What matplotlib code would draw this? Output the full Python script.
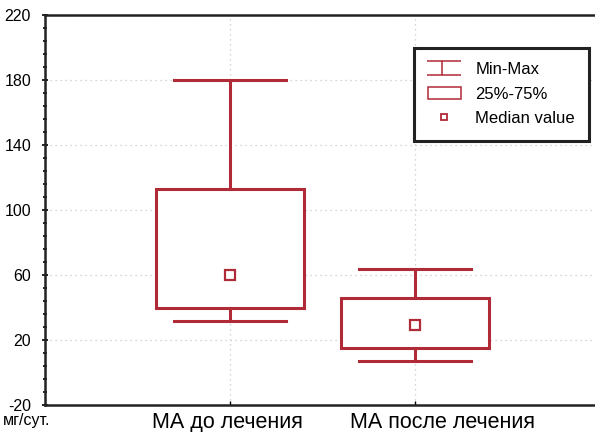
import matplotlib
matplotlib.use('Agg')
import matplotlib.pyplot as plt
import numpy as np
from matplotlib.lines import Line2D
from matplotlib.patches import Patch
from matplotlib.path import Path
from matplotlib.ticker import FixedLocator

plt.rcParams['font.family'] = ['Liberation Sans', 'DejaVu Sans']
plt.rcParams['axes.unicode_minus'] = False

# data (мг/сут.)
groups = ['МА до лечения', 'МА после лечения']
mins = [32, 7]
q1 = [40, 15]
medians = [60, 29]
q3 = [113, 46]
maxs = [180, 64]

y_ticks = [-20, 20, 60, 100, 140, 180, 220]
label_shift = [-2, 20]  # points, the labels are not quite centred on the ticks

red = '#b02a38'

fig = plt.figure(figsize=(5.95, 4.32), dpi=100)
# right spine lies just past the picture edge, as in the original
ax = fig.add_axes([45 / 595, 27 / 432, 555 / 595, 390 / 432])

positions = [1, 2]
stats = []
for i in range(len(groups)):
    stats.append({'whislo': mins[i], 'q1': q1[i], 'med': medians[i],
                  'q3': q3[i], 'whishi': maxs[i]})

ax.bxp(stats, positions=positions, widths=0.8, capwidths=0.61,
       showfliers=False, patch_artist=True,
       boxprops=dict(facecolor='white', edgecolor=red, linewidth=2.2),
       whiskerprops=dict(color=red, linewidth=2.2),
       capprops=dict(color=red, linewidth=2.2),
       medianprops=dict(visible=False),
       zorder=3)
ax.plot(positions, medians, 's', ms=6.5, mfc='white', mec=red, mew=1.6, zorder=4)

ax.set_xlim(0, 3)
ax.set_ylim(-20, 220)
ax.set_yticks(y_ticks)
ax.yaxis.set_minor_locator(FixedLocator(np.arange(-20, 221, 8)))
ax.set_xticks(positions)
ax.set_xticklabels([])
for p, g, dx in zip(positions, groups, label_shift):
    ax.annotate(g, xy=(p, 0), xycoords=('data', 'axes fraction'),
                xytext=(dx, -5), textcoords='offset points',
                ha='center', va='top', fontsize=15.5)

ax.tick_params(axis='y', which='major', labelsize=11.5, direction='inout', length=4, width=1.2, pad=8)
ax.tick_params(axis='y', which='minor', direction='inout', length=3, width=1.2)
ax.tick_params(axis='x', direction='in', length=3, width=1)

for s in ax.spines.values():
    s.set_linewidth(1.8)
    s.set_color('#222222')

ax.grid(True, linestyle=(0, (1, 3)), color='#c8c8c8', linewidth=0.9, zorder=0)
ax.set_axisbelow(True)

fig.text(3 / 595, 1 - 421 / 432, 'мг/сут.', fontsize=11.5, va='center', ha='left')

# legend
bar_marker = Path([(-1, 0.4), (1, 0.4), (-0.15, 0.4), (-0.15, -0.4), (-1, -0.4), (1, -0.4)],
                  [Path.MOVETO, Path.LINETO, Path.MOVETO, Path.LINETO, Path.MOVETO, Path.LINETO])
handles = [
    Line2D([], [], marker=bar_marker, ms=24, color=red, mew=1.1, linestyle='none'),
    Patch(facecolor='white', edgecolor=red, linewidth=1.1),
    Line2D([], [], marker='s', ms=5, mfc='white', mec=red, mew=1.3, linestyle='none'),
]
leg = ax.legend(handles, ['Min-Max', '25%-75%', 'Median value'],
                loc='upper right', bbox_to_anchor=(589 / 595, 1 - 48 / 432),
                bbox_transform=fig.transFigure,
                fontsize=12, frameon=True, fancybox=False, framealpha=1,
                edgecolor='#222222', handlelength=2.0, handleheight=0.8,
                handletextpad=0.85, labelspacing=0.56, borderpad=0.85, borderaxespad=0)
leg.get_frame().set_linewidth(2.2)
leg.set_zorder(5)

plt.savefig('out.png', dpi=100)
plt.close()
